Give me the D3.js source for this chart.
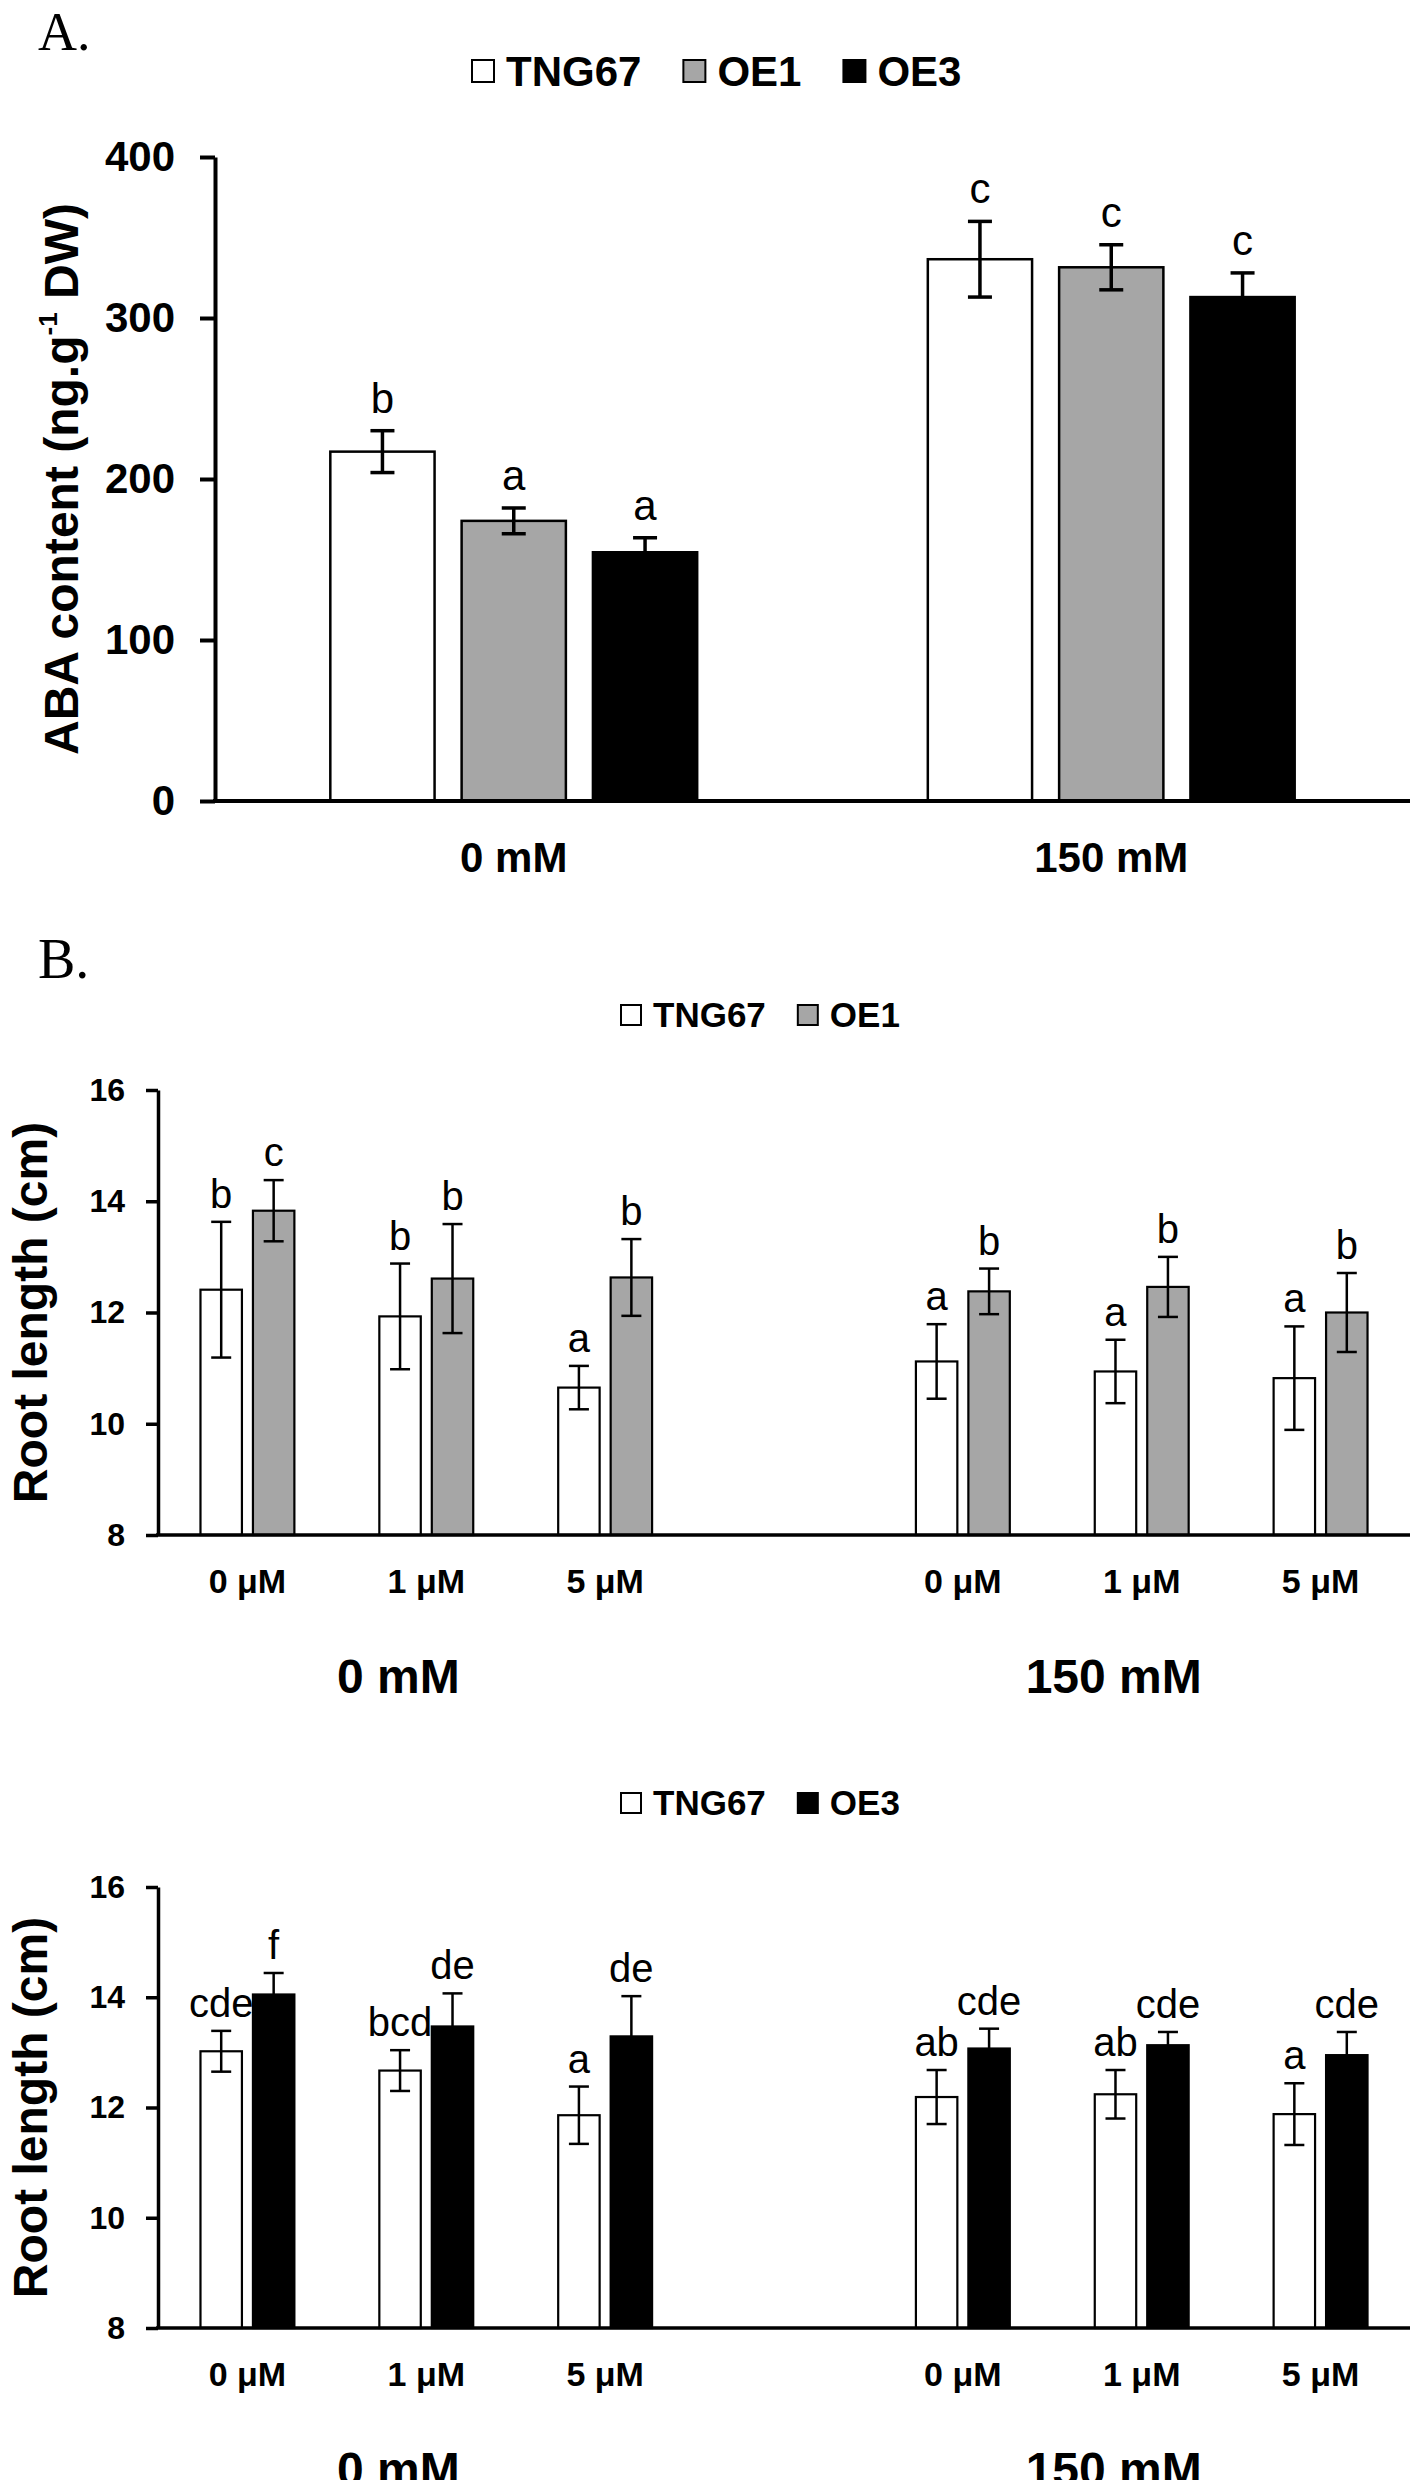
<!DOCTYPE html>
<html>
<head>
<meta charset="utf-8">
<script src="https://cdn.jsdelivr.net/npm/d3@7"></script>
<style>
  body { margin: 0; background: #fff; }
  text { font-family: "Liberation Sans", Arial, sans-serif; fill: #000; }
</style>
</head>
<body>
<script>
// ---------------- DATA ----------------
// Panel A: ABA content
const abaCategories = ["0 mM", "150 mM"];
const abaSeries = ["TNG67", "OE1", "OE3"];
const abaTNG67 = [217, 336.5];
const abaTNG67Err = [13, 23.5];
const abaOE1 = [174, 331.5];
const abaOE1Err = [8, 14];
const abaOE3 = [154.5, 313];
const abaOE3Err = [9, 15];
const abaTNG67Letters = ["b", "c"];
const abaOE1Letters = ["a", "c"];
const abaOE3Letters = ["a", "c"];
const abaTicks = [0, 100, 200, 300, 400];

// Panel B: root length
const saltLevels = ["0 mM", "150 mM"];
const doseLabels = ["0 μM", "1 μM", "5 μM"];
const rootTicks = [8, 10, 12, 14, 16];

// B top: TNG67 vs OE1
const rootB1Series = ["TNG67", "OE1"];
const rootB1TNG67 = [12.41, 11.93, 10.65, 11.12, 10.94, 10.82];
const rootB1TNG67Err = [1.22, 0.95, 0.39, 0.67, 0.57, 0.93];
const rootB1OE1 = [13.83, 12.61, 12.63, 12.38, 12.46, 12.0];
const rootB1OE1Err = [0.55, 0.98, 0.69, 0.41, 0.54, 0.71];
const rootB1TNG67Letters = ["b", "b", "a", "a", "a", "a"];
const rootB1OE1Letters = ["c", "b", "b", "b", "b", "b"];

// B bottom: TNG67 vs OE3
const rootB2Series = ["TNG67", "OE3"];
const rootB2TNG67 = [13.02, 12.67, 11.86, 12.19, 12.24, 11.88];
const rootB2TNG67Err = [0.37, 0.37, 0.52, 0.49, 0.44, 0.56];
const rootB2OE3 = [14.05, 13.47, 13.29, 13.07, 13.13, 12.95];
const rootB2OE3Err = [0.39, 0.60, 0.73, 0.36, 0.24, 0.42];
const rootB2TNG67Letters = ["cde", "bcd", "a", "ab", "ab", "a"];
const rootB2OE3Letters = ["f", "de", "de", "cde", "cde", "cde"];

const seriesColor = { TNG67: "#ffffff", OE1: "#a6a6a6", OE3: "#000000" };

// ---------------- DRAW ----------------
const W = 1416, H = 2480;
const svg = d3.select("body").append("svg").attr("width", W).attr("height", H);

function legend(g, series, x0, yc, size, fs, gapAfterText) {
  let x = x0;
  series.forEach(s => {
    g.append("rect").attr("x", x).attr("y", yc - size / 2).attr("width", size).attr("height", size)
      .attr("fill", seriesColor[s]).attr("stroke", "#000").attr("stroke-width", 2);
    const t = g.append("text").attr("x", x + size + 12).attr("y", yc).attr("dy", "0.35em")
      .attr("font-size", fs).attr("font-weight", "bold").text(s);
    x = x + size + 12 + t.node().getComputedTextLength() + gapAfterText;
  });
}

// ===== Panel A =====
(function () {
  const g = svg.append("g");
  g.append("text").attr("x", 38).attr("y", 50)
    .style("font-family", "'Liberation Serif', serif").attr("font-size", 54).text("A.");
  legend(g, abaSeries, 472, 71, 22, 42, 42);

  const left = 215, right = 1410, top = 157, bottom = 801;
  const x = d3.scaleBand().domain(abaCategories).range([left, right]).padding(0);
  const y = d3.scaleLinear().domain([0, 400]).range([bottom, top]);
  const groupW = x.bandwidth() * 0.614;
  const xs = d3.scaleBand().domain(abaSeries).range([0, groupW]).paddingInner(0.206).paddingOuter(0);

  const vals = { TNG67: abaTNG67, OE1: abaOE1, OE3: abaOE3 };
  const errs = { TNG67: abaTNG67Err, OE1: abaOE1Err, OE3: abaOE3Err };
  const lets = { TNG67: abaTNG67Letters, OE1: abaOE1Letters, OE3: abaOE3Letters };

  abaCategories.forEach((c, i) => {
    const gx = x(c) + (x.bandwidth() - groupW) / 2;
    abaSeries.forEach(s => {
      const v = vals[s][i], e = errs[s][i];
      const bx = gx + xs(s), bw = xs.bandwidth(), cx = bx + bw / 2;
      g.append("rect").attr("x", bx).attr("y", y(v)).attr("width", bw).attr("height", y(0) - y(v))
        .attr("fill", seriesColor[s]).attr("stroke", "#000").attr("stroke-width", 2.5);
      const eg = g.append("g").attr("stroke", "#000").attr("stroke-width", 3.5);
      eg.append("line").attr("x1", cx).attr("x2", cx).attr("y1", y(v + e)).attr("y2", y(v - e));
      eg.append("line").attr("x1", cx - 12).attr("x2", cx + 12).attr("y1", y(v + e)).attr("y2", y(v + e));
      eg.append("line").attr("x1", cx - 12).attr("x2", cx + 12).attr("y1", y(v - e)).attr("y2", y(v - e));
      g.append("text").attr("x", cx).attr("y", y(v + e) - 18).attr("text-anchor", "middle")
        .attr("font-size", 42).text(lets[s][i]);
    });
    g.append("text").attr("x", x(c) + x.bandwidth() / 2).attr("y", 872).attr("text-anchor", "middle")
      .attr("font-size", 42).attr("font-weight", "bold").text(c);
  });

  const ya = g.append("g").attr("transform", `translate(${left},0)`)
    .call(d3.axisLeft(y).tickValues(abaTicks).tickSize(15).tickSizeOuter(0).tickPadding(25));
  ya.select(".domain").attr("stroke-width", 4);
  ya.selectAll(".tick line").attr("stroke-width", 4);
  ya.selectAll(".tick text").attr("font-size", 42).attr("font-weight", "bold")
    .attr("font-family", null).attr("fill", "#000");
  g.append("line").attr("x1", left - 2).attr("x2", right).attr("y1", bottom).attr("y2", bottom)
    .attr("stroke", "#000").attr("stroke-width", 4);

  const title = g.append("text").attr("transform", `translate(61,${(top + bottom) / 2}) rotate(-90)`)
    .attr("text-anchor", "middle").attr("dy", "0.35em").attr("font-size", 48).attr("font-weight", "bold");
  title.append("tspan").text("ABA content (ng.g");
  title.append("tspan").attr("font-size", 26).attr("baseline-shift", "80%").text("-1");
  title.append("tspan").text(" DW)");
})();

// ===== Panel B =====
svg.append("text").attr("x", 38).attr("y", 978).style("font-family", "'Liberation Serif', serif")
  .attr("font-size", 56).text("B.");

function rootChart(opts) {
  const g = svg.append("g");
  legend(g, opts.series, 621, opts.legendY, 20, 35, 32);
  const left = 158, right = 1410, top = opts.top, bottom = opts.bottom;
  // 7 slots: three doses for 0 mM, an empty gap, three doses for 150 mM
  const slots = [];
  saltLevels.forEach((s, si) => {
    doseLabels.forEach((d, di) => slots.push({ key: s + "|" + d, salt: s, dose: d, idx: si * 3 + di }));
    if (si === 0) slots.push({ key: "gap", gap: true });
  });
  const x = d3.scaleBand().domain(slots.map(d => d.key)).range([left, right]).padding(0);
  const y = d3.scaleLinear().domain([8, 16]).range([bottom, top]);
  const pairW = x.bandwidth() * 0.525;
  const xs = d3.scaleBand().domain(opts.series).range([0, pairW]).paddingInner(0.21).paddingOuter(0);

  slots.filter(d => !d.gap).forEach(d => {
    const gx = x(d.key) + (x.bandwidth() - pairW) / 2;
    opts.series.forEach(s => {
      const v = opts.vals[s][d.idx], e = opts.errs[s][d.idx];
      const bx = gx + xs(s), bw = xs.bandwidth(), cx = bx + bw / 2;
      g.append("rect").attr("x", bx).attr("y", y(v)).attr("width", bw).attr("height", y(8) - y(v))
        .attr("fill", seriesColor[s]).attr("stroke", "#000").attr("stroke-width", 2.2);
      const eg = g.append("g").attr("stroke", "#000").attr("stroke-width", 2.5);
      eg.append("line").attr("x1", cx).attr("x2", cx).attr("y1", y(v + e)).attr("y2", y(v - e));
      eg.append("line").attr("x1", cx - 10).attr("x2", cx + 10).attr("y1", y(v + e)).attr("y2", y(v + e));
      eg.append("line").attr("x1", cx - 10).attr("x2", cx + 10).attr("y1", y(v - e)).attr("y2", y(v - e));
      g.append("text").attr("x", cx).attr("y", y(v + e) - 14).attr("text-anchor", "middle")
        .attr("font-size", 40).text(opts.letters[s][d.idx]);
    });
    g.append("text").attr("x", x(d.key) + x.bandwidth() / 2).attr("y", bottom + 58).attr("text-anchor", "middle")
      .attr("font-size", 34).attr("font-weight", "bold").text(d.dose);
  });
  saltLevels.forEach(s => {
    const mid = x(s + "|" + doseLabels[1]) + x.bandwidth() / 2 - 28;
    g.append("text").attr("x", mid).attr("y", bottom + 158).attr("text-anchor", "middle")
      .attr("font-size", 48).attr("font-weight", "bold").text(s);
  });

  const ya = g.append("g").attr("transform", `translate(${left},0)`)
    .call(d3.axisLeft(y).tickValues(rootTicks).tickSize(12).tickSizeOuter(0).tickPadding(21));
  ya.select(".domain").attr("stroke-width", 3.5);
  ya.selectAll(".tick line").attr("stroke-width", 3.5);
  ya.selectAll(".tick text").attr("font-size", 32).attr("font-weight", "bold")
    .attr("font-family", null).attr("fill", "#000");
  g.append("line").attr("x1", left - 2).attr("x2", right).attr("y1", bottom).attr("y2", bottom)
    .attr("stroke", "#000").attr("stroke-width", 3.5);
  g.append("text").attr("transform", `translate(30,${(top + bottom) / 2}) rotate(-90)`)
    .attr("text-anchor", "middle").attr("dy", "0.35em").attr("font-size", 48).attr("font-weight", "bold")
    .text("Root length (cm)");
}

rootChart({
  series: rootB1Series, legendY: 1015, top: 1090, bottom: 1535,
  vals: { TNG67: rootB1TNG67, OE1: rootB1OE1 },
  errs: { TNG67: rootB1TNG67Err, OE1: rootB1OE1Err },
  letters: { TNG67: rootB1TNG67Letters, OE1: rootB1OE1Letters }
});
rootChart({
  series: rootB2Series, legendY: 1803, top: 1887, bottom: 2328,
  vals: { TNG67: rootB2TNG67, OE3: rootB2OE3 },
  errs: { TNG67: rootB2TNG67Err, OE3: rootB2OE3Err },
  letters: { TNG67: rootB2TNG67Letters, OE3: rootB2OE3Letters }
});
</script>
</body>
</html>
